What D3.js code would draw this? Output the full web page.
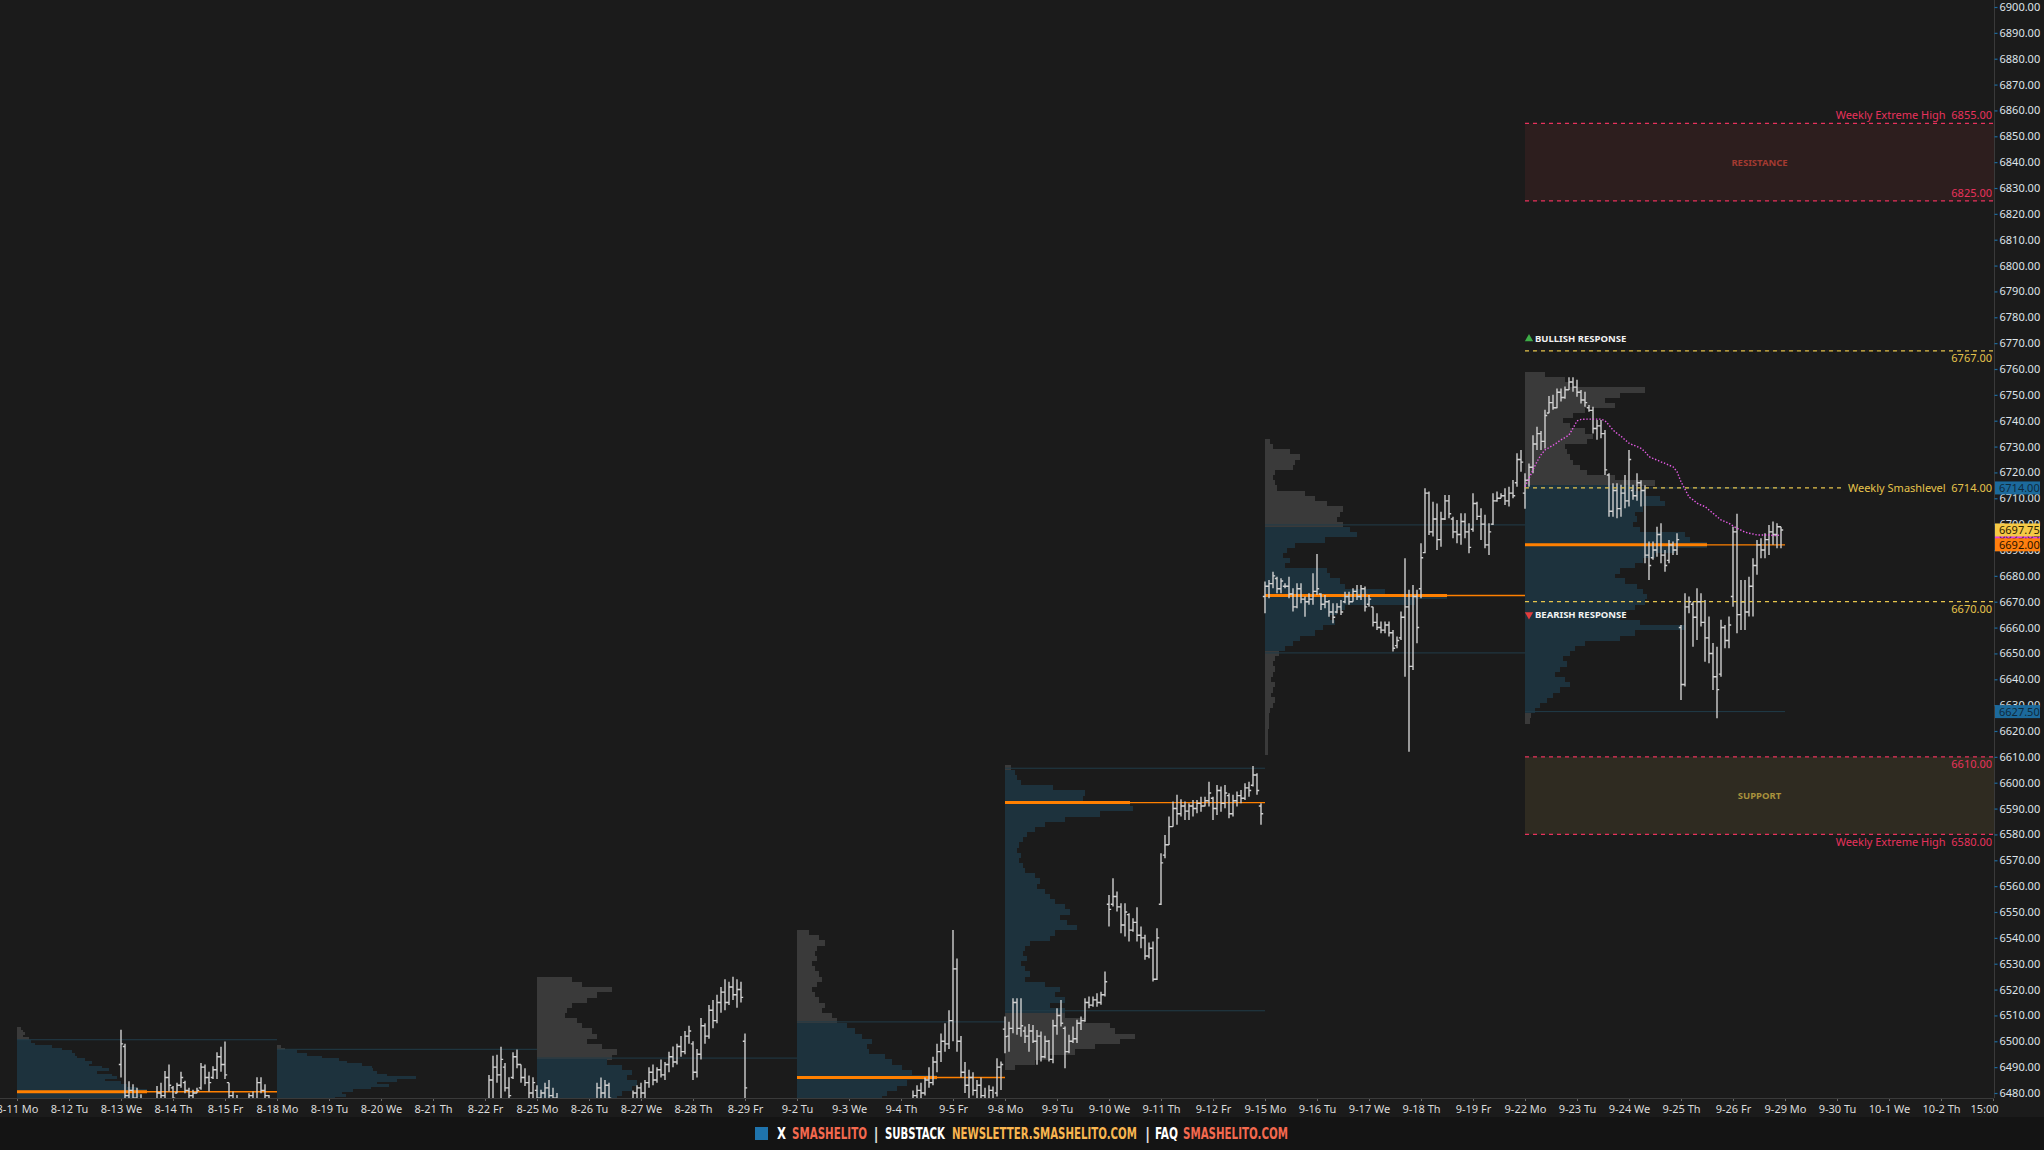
<!DOCTYPE html>
<html><head><meta charset="utf-8">
<script src="https://cdn.jsdelivr.net/npm/d3@7"></script>
<style>
html,body{margin:0;padding:0;background:#1b1b1b;overflow:hidden}
svg{display:block}
</style></head><body>
<svg id="c" width="2044" height="1150"></svg>
<script>
// ---------------- DATA ----------------
const dayLabels = ["8-11 Mo","8-12 Tu","8-13 We","8-14 Th","8-15 Fr","8-18 Mo","8-19 Tu","8-20 We","8-21 Th","8-22 Fr",
 "8-25 Mo","8-26 Tu","8-27 We","8-28 Th","8-29 Fr","9-2 Tu","9-3 We","9-4 Th","9-5 Fr","9-8 Mo","9-9 Tu","9-10 We",
 "9-11 Th","9-12 Fr","9-15 Mo","9-16 Tu","9-17 We","9-18 Th","9-19 Fr","9-22 Mo","9-23 Tu","9-24 We","9-25 Th",
 "9-26 Fr","9-29 Mo","9-30 Tu","10-1 We","10-2 Th","15:00"];
const priceTicks = d3.range(6480, 6901, 10);

// 30-min OHLC bars [open, high, low, close]; null / [] = below the visible range
const week1Bars = [
 [],
 [],
 [[6491,6504.5,6486,6499],[6498,6499,6475,6479],[6479,6484.5,6475,6481],[6481,6483.4,6476,6478],[6478,6482,6474,6476],[6476,6479.5,6472,6474],null,null,null,[6476,6482.7,6474,6480],[6480,6484,6476,6479],[6479,6488.5,6477,6486],[6486,6491,6480.6,6483]],
 [[6482,6482.7,6476,6478],[6480,6484,6479.9,6483],[6483,6488.2,6482,6486],[6484,6484.7,6479.9,6481],[6481,6482,6478,6479],[6479,6481.3,6477,6480],[6480,6482,6479.9,6481],[6482,6491.6,6481.3,6490],[6490,6491,6483.4,6486],[6486,6488.2,6480.6,6484],[6486,6490.3,6485.4,6489],[6489,6495.8,6485.4,6494],[6494,6497.9,6488.2,6491]],
 [[6491,6499.9,6485.4,6487],[6484,6484,6477,6479],[6479,6480.6,6476,6477],[6477,6479.2,6475,6476],null,null,[6476,6479.9,6476,6479],[6479,6480.6,6476,6477],[6477,6486.1,6476,6484],[6484,6486.1,6479.9,6481],[6481,6483.4,6477,6479],[6479,6479.2,6475,6476],null]
];
const week2Bars = [
 [],[],[],[],
 [null,[6476,6487,6474,6485],[6485,6494.4,6476,6490],[6490,6494.8,6484,6487],[6487,6497.9,6476,6493],[6490,6491.6,6480.6,6482],[6482,6486.1,6477,6479],[6486,6495.8,6485.4,6494],[6494,6496.8,6489.6,6491],[6491,6491,6484,6486],[6486,6489.6,6482.7,6484],[6484,6486.8,6477,6480],[6480,6486.1,6477,6484]]
];
const week3Bars = [
 [[6481,6483,6476,6478],[6478,6481.3,6476,6480],[6480,6484,6477,6482],[6482,6485,6478,6479],[6479,6482,6476,6478],[6478,6480,6476,6477],null,null,null,null,null,null,null],
 [null,null,[6476,6484,6474,6482],[6482,6486,6478,6480],[6480,6485,6477,6483],[6483,6484,6476,6478],null,null,null,null,null,[6474,6481,6472,6480],[6480,6483,6477,6482]],
 [[6482,6484,6478,6480],[6480,6485,6477,6484],[6484,6490,6482,6488],[6488,6491,6483,6485],[6485,6490,6484,6489],[6489,6493,6486,6487],[6487,6492,6485,6491],[6491,6496,6488,6494],[6494,6498,6490,6492],[6492,6499,6491,6498],[6498,6502,6494,6496],[6496,6504,6495,6502],[6502,6506,6499,6504]],
 [[6499,6500,6485,6488],[6488,6497,6486,6495],[6495,6509,6493,6506],[6506,6507,6499,6502],[6502,6514,6501,6512],[6512,6516,6505,6508],[6508,6518,6507,6515],[6515,6521,6511,6519],[6519,6524,6512,6515],[6515,6523,6514,6521],[6521,6525,6516,6518],[6518,6524,6513,6520],[6520,6523,6515,6517]],
 [[6500,6503,6476,6482],null,null,null,null,null,null,null,null,null,null,null,null]
];
const week4Bars = [
 [],[],
 [null,null,null,[6474,6481,6472,6479],[6479,6483,6476,6481],[6481,6484,6477,6480],[6480,6486,6479,6485],[6485,6490,6482,6484],[6484,6494,6483,6492],[6492,6499,6488,6496],[6496,6503,6492,6500],[6500,6507,6496,6499],[6499,6512,6497,6508]],
 [[6508,6543,6500,6528],[6528,6532,6496,6500],[6500,6502,6486,6488],[6488,6492,6480,6483],[6483,6489,6478,6486],[6486,6488,6479,6481],[6481,6485,6476,6483],[6483,6486,6477,6479],[6479,6482,6474,6477],[6477,6483,6475,6481],[6481,6482.5,6474,6476],[6480,6493.4,6478.6,6490],[6490,6492.2,6481.2,6491]]
];
const week5Bars = [
 [[6504.7,6509.6,6495.4,6501.8],[6502,6507.6,6496,6505],[6505,6516.6,6503.1,6515],[6515,6516.6,6502.5,6505],[6505,6516.6,6501.8,6506],[6504,6505.7,6499.3,6502],[6502,6506.7,6496,6504],[6504,6506.3,6499.3,6500],[6500,6504.4,6490.9,6502],[6502,6503.8,6492.2,6494],[6494,6502.1,6493.4,6500],[6500,6500.5,6492.2,6493],[6493,6508.3,6491.5,6506]],
 [[6506,6512.8,6502.5,6510],[6510,6516,6505.7,6507],[6505,6505.7,6489.6,6496],[6496,6502.5,6495.4,6500],[6500,6505.7,6499.3,6501],[6501,6508.3,6499.3,6507],[6507,6509.6,6504.4,6508],[6508,6516.6,6507.6,6515],[6515,6517.3,6512.8,6514],[6514,6517.3,6513.4,6516],[6516,6518.6,6513.4,6515],[6515,6519.2,6514.1,6518],[6518,6527,6517.3,6523]],
 [[6553,6556.6,6544.4,6551],[6553,6563.1,6552.1,6556],[6556,6557.9,6550.2,6552],[6552,6553.4,6541.8,6545],[6545,6553.4,6540.5,6550],[6549,6549.5,6538.6,6543],[6543,6547.6,6542.4,6546],[6546,6551.8,6538.6,6541],[6541,6544.4,6536,6540],[6540,6541.2,6531.5,6533],[6533,6538.2,6532.1,6536],[6536,6538.6,6523.1,6524],[6524,6543.7,6523.7,6540]],
 [[6553,6572.7,6552.7,6569],[6572,6579.8,6570.8,6576],[6576,6586.9,6575.9,6583],[6583,6592.7,6583,6590],[6590,6595.3,6583.7,6588],[6588,6593.6,6586.9,6591],[6591,6592.7,6585.6,6589],[6589,6592.1,6585.6,6591],[6591,6593.3,6586.9,6590],[6590,6593.3,6588.2,6592],[6592,6594.6,6588.8,6591],[6591,6594.6,6590.8,6593],[6593,6600.4,6590.8,6596]],
 [[6594,6594.6,6585.6,6590],[6590,6599.1,6587.5,6597],[6597,6598.5,6588.8,6592],[6592,6599.1,6590.1,6596],[6595,6595.9,6586.3,6588],[6588,6595.3,6586.9,6593],[6593,6596.6,6590.8,6595],[6595,6597.2,6592.1,6594],[6594,6599.8,6593.3,6598],[6598,6600.4,6594.6,6597],[6599,6606.5,6598.5,6603],[6603,6603.7,6595.3,6597],[6591,6592.1,6583.7,6588]]
];
const week6Bars = [
 [[6672,6677.8,6665.5,6676],[6676,6678.4,6671.3,6677],[6677,6681.6,6675.2,6680],[6679,6679.7,6673.3,6675],[6675,6679.1,6673.3,6678],[6676,6677.1,6675.2,6676],[6676,6679.7,6671.3,6673],[6673,6675.2,6666.2,6668],[6668,6677.1,6667.5,6675],[6675,6677.1,6669.4,6671],[6671,6672,6664.2,6670],[6670,6673.3,6668.8,6671],[6671,6681,6668.8,6674]],
 [[6674,6688.5,6672.6,6675],[6673,6673.3,6666.8,6669],[6669,6672.6,6667.5,6670],[6670,6670.7,6664.2,6666],[6666,6669.4,6661.7,6664],[6666,6669.4,6665.5,6668],[6668,6670.7,6664.9,6666],[6670,6673.9,6669.4,6672],[6672,6673.9,6668.8,6670],[6670,6675.2,6670,6674],[6674,6676.5,6670.7,6672],[6672,6676.5,6670.7,6675],[6675,6675.9,6666.2,6668]],
 [[6669,6672.6,6668.1,6671],[6668,6668.1,6660.4,6662],[6662,6665.5,6659.1,6660],[6660,6662.3,6657.8,6659],[6659,6662.3,6657.8,6661],[6661,6662.3,6656.5,6658],[6658,6659.1,6650.7,6652],[6653,6656.5,6652,6655],[6656,6666.2,6655.2,6664],[6664,6686.8,6641,6668],[6668,6674.6,6612,6645],[6645,6676.5,6643.6,6672],[6672,6674.6,6653.9,6660]],
 [[6675,6692.6,6671.3,6687],[6689,6713.9,6688.7,6712],[6712,6712.6,6695.8,6697],[6697,6708.7,6695.2,6702],[6702,6708,6690,6694],[6694,6704.8,6691.3,6702],[6702,6711.3,6701.6,6709],[6709,6711.3,6702.3,6704],[6702,6702.9,6694.5,6697],[6697,6701.6,6692.6,6696],[6696,6704.2,6692,6701],[6701,6704.2,6694.5,6697],[6697,6700.3,6688.7,6691]],
 [[6698,6711.9,6697.1,6708],[6708,6708.7,6701.6,6703],[6703,6706.1,6693.9,6700],[6700,6703.6,6690.7,6692],[6692,6700.3,6688.1,6697],[6700,6711.9,6699.7,6709],[6709,6712.6,6708.7,6710],[6710,6711.9,6710,6711],[6711,6713.9,6707.4,6709],[6709,6714.5,6706.8,6712],[6712,6717.1,6710,6711],[6716,6727.4,6714.5,6725],[6725,6728.7,6720.3,6724]]
];
const week7Bars = [
 [[6712,6719.7,6706,6717],[6717,6723.5,6714.5,6722],[6722,6734.4,6719.7,6731],[6731,6737.7,6728.7,6735],[6735,6736,6728.7,6732],[6732,6744.2,6729.3,6742],[6743,6749.6,6742.9,6747],[6747,6750,6744.2,6745],[6745,6752.5,6744.8,6751],[6751,6752.5,6747.4,6749],[6749,6753.2,6748.5,6752],[6752,6756.8,6751.9,6755],[6755,6756.8,6751.2,6753]],
 [[6753,6755.8,6749.3,6751],[6751,6751.9,6746.7,6748],[6748,6751.2,6745.4,6747],[6745,6746.1,6743.5,6744],[6744,6745.4,6735.1,6737],[6737,6740.3,6732.6,6738],[6738,6740.3,6733.2,6735],[6735,6736.4,6719,6721],[6719,6719.7,6702.9,6705],[6705,6715.8,6702.9,6713],[6713,6715.8,6702.3,6706],[6706,6715.2,6702.9,6712],[6712,6719,6706.1,6709]],
 [[6709,6728.7,6706.8,6725],[6713,6715.2,6709.4,6711],[6711,6719.7,6709,6716],[6716,6717,6706.8,6713],[6713,6715,6684.9,6688],[6688,6693.3,6678.4,6684],[6687,6693.3,6686.2,6690],[6690,6699,6687.4,6696],[6696,6700.3,6684.9,6688],[6688,6690,6681.6,6684],[6686,6693.9,6684.9,6692],[6692,6693.3,6688.1,6690],[6690,6696.5,6688.1,6694]],
 [[6660,6661,6632,6638],[6638,6673.3,6637.2,6668],[6668,6672,6665.5,6670],[6669,6670,6652.6,6664],[6664,6675.2,6655.2,6670],[6670,6673.3,6660.4,6662],[6662,6670.7,6646.8,6656],[6656,6664.3,6646.2,6650],[6650,6654,6635.9,6641],[6641,6652.6,6624.9,6636],[6642,6663,6641,6660],[6660,6661,6652,6655],[6655,6664.3,6652,6661]],
 [[6672,6699,6668.1,6697],[6697,6704,6657.8,6665],[6665,6678.4,6659.1,6670],[6670,6678.4,6659.1,6666],[6666,6679.7,6664.3,6676],[6676,6686.8,6664.3,6684],[6684,6693.9,6680.4,6692],[6692,6694.5,6686.8,6690],[6690,6696.5,6686.8,6694],[6694,6699.7,6688.1,6697],[6697,6701,6692,6696],[6696,6700.3,6690.7,6699],[6699,6699,6690.7,6697.75]]
];

// weekly VWAP (one value per bar, 9-22 .. 9-26)
const vwapWeek = [6714.5,6717.7,6721.0,6724.2,6726.8,6728.7,6729.6,6730.5,6731.5,6732.6,6733.5,6734.5,6737.1,
 6739.9,6740.5,6740.6,6740.6,6740.6,6740.6,6740.6,6740.0,6738.3,6736.4,6735.1,6734.0,6732.6,
 6731.3,6730.6,6730.0,6729.3,6728.0,6726.1,6725.4,6724.8,6724.1,6723.5,6722.8,6722.2,6720.3,
 6716.4,6713.5,6710.5,6709.4,6708.1,6707.4,6706.8,6705.5,6704.2,6702.9,6701.6,6701.0,6700.3,
 6699.3,6698.4,6697.7,6696.9,6696.5,6696.2,6695.8,6695.8,6695.8,6695.8,6695.6,6695.6,6695.9];

// weekly volume profiles [price, relative volume]
const profileWeek1 = [[6505,4],[6504,6],[6503,8],[6502,6],[6501,12],[6500,14],[6499,18],[6498,35],[6497,45],[6496,55],[6495,58],[6494,60],[6493,68],[6492,75],[6491,72],[6490,85],[6489,92],[6488,80],[6487,95],[6486,100],[6485,88],[6484,104],[6483,110],[6482,120],[6481,130],[6480,108],[6479,125],[6478,120],[6477,118]];
const profileWeek2 = [[6498,4],[6497,8],[6496,20],[6495,30],[6494,45],[6493,62],[6492,70],[6491,85],[6490,95],[6489,96],[6488,100],[6487,110],[6486,139],[6485,120],[6484,100],[6483,112],[6482,94],[6481,76],[6480,65],[6479,69],[6478,58],[6477,60]];
const profileWeek3 = [[6524,35],[6522,45],[6520,75],[6518,60],[6516,50],[6514,35],[6512,30],[6510,28],[6508,40],[6506,45],[6504,55],[6502,60],[6500,50],[6498,65],[6496,80],[6494,75],[6492,70],[6490,85],[6488,95],[6486,90],[6484,100],[6482,95],[6480,85],[6478,80]];
const profileWeek4 = [[6542,12],[6540,22],[6538,28],[6536,20],[6534,18],[6532,20],[6530,15],[6528,18],[6526,22],[6524,25],[6522,20],[6520,15],[6518,18],[6516,22],[6514,28],[6512,25],[6510,35],[6508,40],[6506,50],[6504,58],[6502,65],[6500,75],[6498,70],[6496,72],[6494,88],[6492,95],[6490,105],[6488,115],[6486,140],[6484,110],[6482,100],[6480,90],[6478,85]];
const profileWeek5 = [[6606,6],[6604,10],[6602,12],[6600,16],[6598,48],[6596,80],[6594,78],[6592,125],[6590,128],[6588,95],[6586,60],[6584,40],[6582,30],[6580,22],[6578,18],[6576,14],[6574,12],[6572,16],[6570,14],[6568,18],[6566,20],[6564,30],[6562,35],[6560,32],[6558,40],[6556,45],[6554,50],[6552,60],[6550,65],[6548,55],[6546,62],[6544,72],[6542,50],[6540,45],[6538,25],[6536,20],[6534,18],[6532,22],[6530,16],[6528,20],[6526,25],[6524,20],[6522,40],[6520,55],[6518,50],[6516,60],[6514,45],[6512,60],[6510,60],[6508,80],[6506,105],[6504,110],[6502,130],[6500,115],[6498,90],[6496,70],[6494,45],[6492,30],[6490,10]];
const profileWeek6 = [[6732,5],[6730,8],[6728,25],[6726,35],[6724,30],[6722,28],[6720,10],[6718,8],[6716,10],[6714,12],[6712,40],[6710,50],[6708,62],[6706,78],[6704,75],[6702,72],[6700,78],[6698,85],[6696,92],[6694,60],[6692,30],[6690,22],[6688,18],[6686,25],[6684,20],[6682,62],[6680,65],[6678,75],[6676,80],[6674,120],[6672,182],[6670,150],[6668,80],[6666,72],[6664,65],[6662,70],[6660,58],[6658,50],[6656,35],[6654,28],[6652,20],[6650,14],[6648,10],[6646,8],[6644,10],[6642,8],[6640,6],[6638,10],[6636,8],[6634,6],[6632,10],[6630,8],[6628,5],[6626,4],[6624,4],[6622,4],[6620,3],[6618,3],[6616,3],[6614,3],[6612,3]];
const profileWeek7 = [[6758,20],[6756,40],[6754,45],[6752,120],[6750,95],[6748,80],[6746,90],[6744,60],[6742,48],[6740,38],[6738,45],[6736,60],[6734,68],[6732,62],[6730,40],[6728,42],[6726,45],[6724,48],[6722,55],[6720,62],[6718,90],[6716,130],[6714,110],[6712,120],[6710,135],[6708,140],[6706,118],[6704,110],[6702,112],[6700,108],[6698,115],[6696,160],[6694,165],[6692,182],[6690,150],[6688,130],[6686,118],[6684,110],[6682,95],[6680,90],[6678,100],[6676,112],[6674,118],[6672,122],[6670,120],[6668,110],[6666,100],[6664,95],[6662,115],[6660,160],[6658,110],[6656,95],[6654,60],[6652,50],[6650,45],[6648,38],[6646,42],[6644,35],[6642,30],[6640,40],[6638,45],[6636,35],[6634,28],[6632,22],[6630,15],[6628,10],[6626,6],[6624,5]];
const profileSteps = [1,1,2,2,2,2,2];
const weekStartDays = [0,5,10,15,19,24,29];
const weekEndDays   = [5,10,15,19,24,29,34];
const vahValues = [6500.6,6496.9,6493.5,6507.5,6605.6,6699.7,6714.0];
const valValues = [6400,6400,6400,6400,6511.8,6650.2,6627.5];
const pocValues = [6480.5,null,null,6486,6592.3,6672.4,6692.0];

// key levels for the week of 9-22
const resistanceZone = [6825, 6855];
const supportZone = [6580, 6610];
const bullishLevel = 6767;
const smashLevel = 6714;
const bearishLevel = 6670;
const tagValues = [6714.00, 6627.50, 6695.64, 6697.75, 6692.00];
const tagKinds  = ["blue","blue","magenta","yellow","orange"];
const footerParts = ["X","SMASHELITO","|","SUBSTACK","NEWSLETTER.SMASHELITO.COM","|","FAQ","SMASHELITO.COM"];

// ---------------- DRAW ----------------
const W = 2044, H = 1150, plotRight = 1994, plotBottom = 1098;
const svg = d3.select("#c");
const FONT = "'Noto Sans', 'DejaVu Sans', sans-serif";
const SP = "\u00a0\u00a0";
svg.append("rect").attr("width", W).attr("height", H).attr("fill", "#1b1b1b");
svg.append("rect").attr("y", 1117).attr("width", W).attr("height", H - 1117).attr("fill", "#141414");

const y = d3.scaleLinear().domain([6480, 6900]).range([1093, 7]);
const xDay = d3.scaleLinear().domain([0, 38]).range([17, 1993]);
const BPD = 13;
const xBar = d3.scaleLinear().domain([0, 38 * BPD]).range([17, 1993]);
const vol = d3.scaleLinear().domain([0, 100]).range([0, 100]);

svg.append("defs").append("clipPath").attr("id", "plot")
  .append("rect").attr("x", 0).attr("y", 0).attr("width", plotRight).attr("height", plotBottom);
const g = svg.append("g").attr("clip-path", "url(#plot)");

const lvlX0 = xDay(29), lvlX1 = plotRight;

// zones
g.append("rect").attr("x", lvlX0).attr("width", lvlX1 - lvlX0)
  .attr("y", y(resistanceZone[1])).attr("height", y(resistanceZone[0]) - y(resistanceZone[1])).attr("fill", "#2d1e1e");
g.append("rect").attr("x", lvlX0).attr("width", lvlX1 - lvlX0)
  .attr("y", y(supportZone[1])).attr("height", y(supportZone[0]) - y(supportZone[1])).attr("fill", "#2f2b21");

// profiles
const profiles = [profileWeek1, profileWeek2, profileWeek3, profileWeek4, profileWeek5, profileWeek6, profileWeek7];
profiles.forEach((rows, i) => {
  const x0 = xDay(weekStartDays[i]), x1 = xDay(weekEndDays[i]);
  const s = profileSteps[i];
  const pg = g.append("g").attr("shape-rendering", "crispEdges");
  pg.selectAll("rect").data(rows).join("rect")
    .attr("x", x0)
    .attr("y", d => y(d[0] + s / 2))
    .attr("width", d => vol(d[1]))
    .attr("height", d => y(d[0] - s / 2) - y(d[0] + s / 2) + 0.3)
    .attr("fill", d => (d[0] <= vahValues[i] && d[0] >= valValues[i]) ? "#1d323d" : "#3a3a3a");
  [vahValues[i], valValues[i]].forEach(v => {
    g.append("line").attr("x1", x0).attr("x2", x1).attr("y1", y(v)).attr("y2", y(v))
      .attr("stroke", "#213c49").attr("stroke-width", 1);
  });
});
// POC lines
profiles.forEach((rows, i) => {
  const p = pocValues[i];
  if (p == null) return;
  const x0 = xDay(weekStartDays[i]), x1 = xDay(weekEndDays[i]);
  const row = rows.reduce((a, b) => Math.abs(b[0] - p) < Math.abs(a[0] - p) ? b : a);
  g.append("line").attr("x1", x0).attr("x2", x1).attr("y1", y(p)).attr("y2", y(p))
    .attr("stroke", "#ff8000").attr("stroke-width", 1.4);
  g.append("line").attr("x1", x0).attr("x2", x0 + vol(row[1])).attr("y1", y(p)).attr("y2", y(p))
    .attr("stroke", "#ff8000").attr("stroke-width", 3);
});

// bars
const allDays = [...week1Bars, ...week2Bars, ...week3Bars, ...week4Bars, ...week5Bars, ...week6Bars, ...week7Bars];
const bars = [];
allDays.forEach((day, d) => day.forEach((b, j) => { if (b) bars.push({ k: d * BPD + j, o: b[0], h: b[1], l: b[2], c: b[3] }); }));
g.append("g").selectAll("path").data(bars).join("path")
  .attr("d", b => {
    const x = xBar(b.k);
    return `M${x},${y(b.h)}V${y(b.l)}M${x - 2.2},${y(b.o)}H${x}M${x},${y(b.c)}H${x + 2.2}`;
  })
  .attr("fill", "none").attr("stroke", "#cfcfcf").attr("stroke-width", 1.4);

// VWAP
const vStart = 29 * BPD;
g.append("path").datum(vwapWeek)
  .attr("d", d3.line().x((d, i) => xBar(vStart + i)).y(d => y(d)))
  .attr("fill", "none").attr("stroke", "#e85ce8").attr("stroke-width", 1.4).attr("stroke-dasharray", "1.4 1.8");

// dashed level lines
function dashLine(v, color) {
  g.append("line").attr("x1", lvlX0).attr("x2", lvlX1).attr("y1", y(v)).attr("y2", y(v))
    .attr("stroke", color).attr("stroke-width", 1.3).attr("stroke-dasharray", "4 4");
}
const RED = "#e8325c", YEL = "#e6c44c";
dashLine(resistanceZone[1], RED); dashLine(resistanceZone[0], RED);
dashLine(supportZone[1], RED); dashLine(supportZone[0], RED);
dashLine(bullishLevel, YEL); dashLine(smashLevel, YEL); dashLine(bearishLevel, YEL);

// labels
const lab = svg.append("g").attr("font-family", FONT);
function rText(txt, yy, color) {
  return lab.append("text").attr("x", plotRight - 2).attr("y", yy).attr("text-anchor", "end")
    .attr("font-size", 11).attr("fill", color).text(txt);
}
rText("Weekly Extreme High" + SP + resistanceZone[1].toFixed(2), y(resistanceZone[1]) - 4, RED);
rText(resistanceZone[0].toFixed(2), y(resistanceZone[0]) - 4, RED);
rText(supportZone[1].toFixed(2), y(supportZone[1]) + 11.5, RED);
rText("Weekly Extreme High" + SP + supportZone[0].toFixed(2), y(supportZone[0]) + 11.5, RED);
rText(bullishLevel.toFixed(2), y(bullishLevel) + 11.5, YEL);
rText(bearishLevel.toFixed(2), y(bearishLevel) + 11.5, YEL);
const sm = rText("Weekly Smashlevel" + SP + smashLevel.toFixed(2), y(smashLevel) + 4, YEL);
const bb = sm.node().getBBox();
lab.insert("rect", "text").attr("x", bb.x - 4).attr("y", y(smashLevel) - 3).attr("width", bb.width + 6).attr("height", 6).attr("fill", "#1b1b1b");

const midX = (lvlX0 + lvlX1) / 2;
lab.append("text").attr("x", midX).attr("y", y((resistanceZone[0] + resistanceZone[1]) / 2) + 3.5)
  .attr("text-anchor", "middle").attr("font-size", 9.5).attr("font-weight", "bold").attr("fill", "#a33a31").text("RESISTANCE");
lab.append("text").attr("x", midX).attr("y", y((supportZone[0] + supportZone[1]) / 2) + 3.5)
  .attr("text-anchor", "middle").attr("font-size", 9.5).attr("font-weight", "bold").attr("fill", "#a8913c").text("SUPPORT");

const bullY = y(bullishLevel) - 12, bearY = y(bearishLevel) + 13;
lab.append("path").attr("d", d3.symbol(d3.symbolTriangle, 30)()).attr("transform", `translate(${lvlX0 + 4},${bullY})`).attr("fill", "#3dad47");
lab.append("path").attr("d", d3.symbol(d3.symbolTriangle, 30)()).attr("transform", `translate(${lvlX0 + 4},${bearY}) rotate(180)`).attr("fill", "#e23d3d");
lab.append("text").attr("x", lvlX0 + 10).attr("y", bullY + 3.5).attr("font-size", 9.5).attr("font-weight", "bold").attr("fill", "#f2f2f2").text("BULLISH RESPONSE");
lab.append("text").attr("x", lvlX0 + 10).attr("y", bearY + 3.5).attr("font-size", 9.5).attr("font-weight", "bold").attr("fill", "#f2f2f2").text("BEARISH RESPONSE");

// right price axis
const ay = svg.append("g").attr("transform", `translate(${plotRight + 0.5},0)`)
  .call(d3.axisRight(y).tickValues(priceTicks).tickFormat(d3.format(".2f")).tickSize(3).tickPadding(2));
ay.select(".domain").attr("stroke", "#3a3a3a").attr("d", `M0,0V${plotBottom}`);
ay.selectAll(".tick line").attr("stroke", "#1d6b9e").attr("stroke-width", 1.2);
ay.selectAll(".tick text").attr("fill", "#dfe4ea").attr("font-size", 11).attr("font-family", FONT);

// price tags
const tagFill = { blue: "#1c6a9c", magenta: "#e040e0", yellow: "#f5c946", orange: "#ff7f0e" };
const tagText = { blue: "#0f2a3d", magenta: "#3a103a", yellow: "#2b2200", orange: "#2b1400" };
const tags = svg.append("g").attr("font-family", FONT);
tagValues.forEach((v, i) => {
  const k = tagKinds[i];
  tags.append("rect").attr("x", plotRight + 1).attr("y", y(v) - 6.5).attr("width", 45).attr("height", 13).attr("fill", tagFill[k]);
  tags.append("text").attr("x", plotRight + 5).attr("y", y(v) + 4).attr("font-size", 11).attr("fill", tagText[k]).text(v.toFixed(2));
});

// bottom time axis
const ax = svg.append("g").attr("transform", `translate(0,${plotBottom})`)
  .call(d3.axisBottom(xDay).tickValues(d3.range(0, 39)).tickFormat(i => dayLabels[i]).tickSize(3).tickPadding(4));
ax.select(".domain").remove();
ax.selectAll(".tick line").attr("stroke", "#666");
ax.selectAll(".tick text").attr("fill", "#dcdcdc").attr("font-size", 11).attr("font-family", FONT);
ax.selectAll(".tick text").filter(i => i === 38).attr("text-anchor", "end").attr("x", 5);
svg.append("line").attr("x1", 0).attr("x2", plotRight).attr("y1", plotBottom + 0.5).attr("y2", plotBottom + 0.5).attr("stroke", "#3a3a3a");

// footer: square + separately placed words, each squeezed horizontally to its slot
svg.append("rect").attr("x", 755).attr("y", 1127).attr("width", 13).attr("height", 13).attr("fill", "#1f74ad");
const footX = [777, 792, 873.5, 885, 952, 1145, 1155, 1183];
const footW = [9, 75, 3, 60, 185, 3, 23, 105];
const footC = ["#ffffff", "#f4694f", "#dddddd", "#ffffff", "#f9b650", "#dddddd", "#ffffff", "#f4694f"];
const fg = svg.append("g");
footerParts.forEach((t, i) => {
  const gg = fg.append("g");
  const tx = gg.append("text").attr("x", 0).attr("y", 0)
    .attr("font-family", "'DejaVu Sans Condensed', 'DejaVu Sans', sans-serif").attr("font-stretch", "condensed")
    .attr("font-weight", "bold").attr("font-size", 16).attr("fill", footC[i]).text(t);
  const natural = tx.node().getComputedTextLength();
  const sx = t === "|" ? 1 : Math.min(1, footW[i] / natural);
  gg.attr("transform", `translate(${footX[i]},1139) scale(${sx},1)`);
});
</script>
</body></html>
